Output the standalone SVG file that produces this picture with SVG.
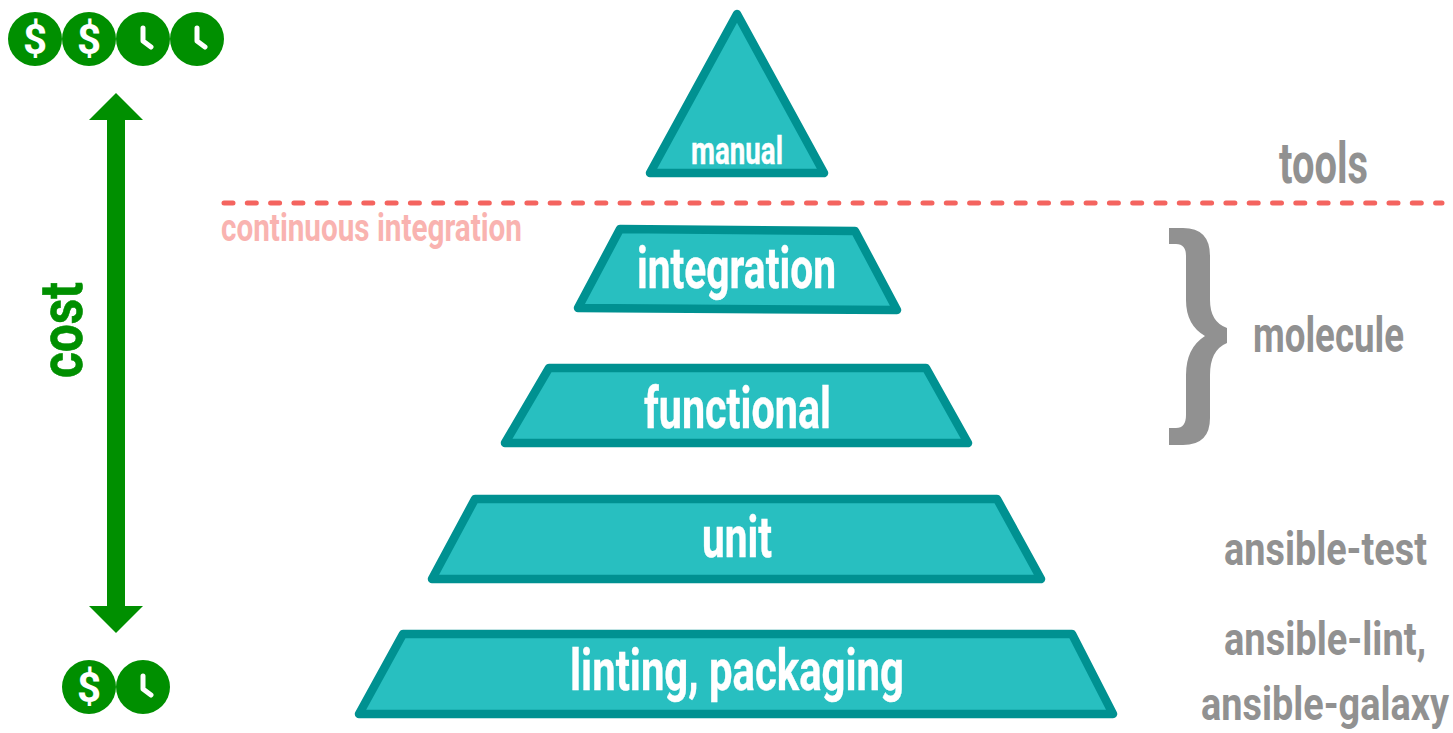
<svg xmlns="http://www.w3.org/2000/svg" width="1453" height="733" viewBox="0 0 1453 733">
<style>
text{font-family:"Roboto","Liberation Sans",sans-serif;font-weight:700}
.tier{fill:#28bfc0;stroke:#009191;stroke-width:8.5;stroke-linejoin:round}
.w{fill:#fff;stroke:#fff;stroke-width:.4}
.g{fill:#919191}
.coin{fill:#008f00}
.hand{fill:none;stroke:#fff;stroke-width:5;stroke-linecap:round;stroke-linejoin:round}
.dollar{fill:#fff;font-size:42px;text-anchor:middle}
</style>
<defs>
<marker id="ah" markerUnits="userSpaceOnUse" markerWidth="27" markerHeight="54" refX="0" refY="27" viewBox="0 0 27 54" orient="auto-start-reverse">
<path d="M0 0L27 27L0 54Z" fill="#008f00"/>
</marker>
<g id="dollarCoin"><circle class="coin" r="27"/><text class="dollar" y="15">$</text></g>
<g id="clockCoin"><circle class="coin" r="27"/><path class="hand" d="M0 -11V2L8 8"/></g>
</defs>
<rect width="1453" height="733" fill="#fff"/>
<g id="connectors">
<line x1="224" y1="203" x2="1442" y2="203" fill="none" stroke="#f4645f" stroke-width="5" stroke-linecap="round" stroke-dasharray="9 14.3"/>
<line x1="116" y1="120" x2="116" y2="606" stroke="#008f00" stroke-width="18" marker-start="url(#ah)" marker-end="url(#ah)"/>
</g>
<g id="cost-high"><use href="#dollarCoin" x="35" y="39"/><use href="#dollarCoin" x="89" y="39"/><use href="#clockCoin" x="143" y="39"/><use href="#clockCoin" x="197" y="39"/></g>
<g id="cost-low"><use href="#dollarCoin" x="89" y="687"/><use href="#clockCoin" x="143" y="687"/></g>
<g id="cost-label"><text transform="translate(82,378) rotate(-90)" fill="#008f00" stroke="#008f00" stroke-width=".6" font-size="60" textLength="96" lengthAdjust="spacingAndGlyphs">cost</text></g>
<g id="manual"><path class="tier" d="M737 14L824 173H650Z"/><text class="w" x="691" y="164" font-size="38" textLength="92" lengthAdjust="spacingAndGlyphs">manual</text></g>
<g id="integration"><path class="tier" d="M620 229L855 231L897 310L578 308Z"/><text class="w" x="637" y="288" font-size="58" textLength="199" lengthAdjust="spacingAndGlyphs">integration</text></g>
<g id="functional"><path class="tier" d="M549 368H926L968 443H505Z"/><text class="w" x="644" y="428" font-size="58" textLength="187" lengthAdjust="spacingAndGlyphs">functional</text></g>
<g id="unit"><path class="tier" d="M475 499H997L1041 579H432Z"/><text class="w" x="702" y="557" font-size="58" textLength="70" lengthAdjust="spacingAndGlyphs">unit</text></g>
<g id="linting"><path class="tier" d="M403 634H1072L1113 714H359Z"/><text class="w" x="570" y="690" font-size="58" textLength="334" lengthAdjust="spacingAndGlyphs">linting, packaging</text></g>
<g id="ci-label"><text x="221" y="241" fill="#f9b3b0" font-size="38" textLength="301" lengthAdjust="spacingAndGlyphs">continuous integration</text></g>
<g id="tools"><text class="g" transform="translate(1279,183) scale(1,1.45)" font-size="39.4" textLength="89" lengthAdjust="spacingAndGlyphs">tools</text></g>
<g id="molecule"><path class="g" d="M1169 228H1183Q1210 228 1210 256V300Q1210 322 1227 328V343Q1210 350 1210 375V418Q1210 445 1183 445H1169V428H1176Q1186 428 1186 415V375Q1186 348 1205 336Q1186 325 1186 300V256Q1186 244 1176 244H1169Z"/><text class="g" transform="translate(1253,352) scale(1,1.38)" font-size="36.3" textLength="151" lengthAdjust="spacingAndGlyphs">molecule</text></g>
<g id="ansible-test"><text class="g" transform="translate(1224,565) scale(1,1.14)" font-size="40.4" textLength="203" lengthAdjust="spacingAndGlyphs">ansible-test</text></g>
<g id="ansible-lint"><text class="g" transform="translate(1224,655) scale(1,1.2)" font-size="38.4" textLength="202" lengthAdjust="spacingAndGlyphs">ansible-lint,</text><text class="g" transform="translate(1201,720) scale(1,1.3)" font-size="35.3" textLength="248" lengthAdjust="spacingAndGlyphs">ansible-galaxy</text></g>
</svg>
